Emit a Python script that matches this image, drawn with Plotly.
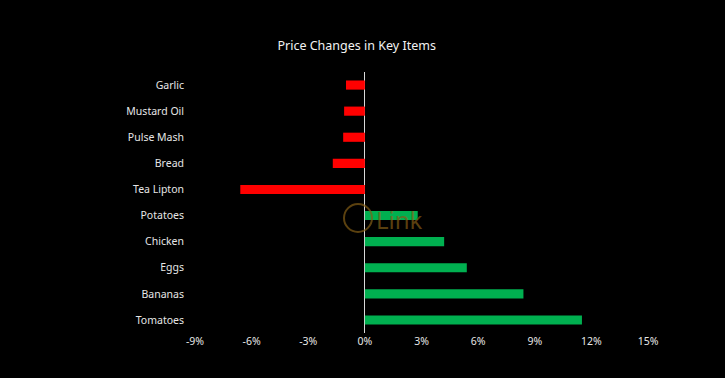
import plotly.graph_objects as go

items = ["Garlic", "Mustard Oil", "Pulse Mash", "Bread", "Tea Lipton",
         "Potatoes", "Chicken", "Eggs", "Bananas", "Tomatoes"]
changes = [-1.0, -1.1, -1.15, -1.7, -6.6, 2.8, 4.2, 5.4, 8.4, 11.5]
tick_vals = [-9, -6, -3, 0, 3, 6, 9, 12, 15]
tick_text = ["-9%", "-6%", "-3%", "0%", "3%", "6%", "9%", "12%", "15%"]

colors = ["#FF0000" if v < 0 else "#00B050" for v in changes]

fig = go.Figure(go.Bar(
    x=changes, y=items, orientation="h",
    marker=dict(color=colors, line=dict(width=0)),
    width=0.35,
))

font_family = "Noto Sans, Open Sans, sans-serif"
fig.update_layout(
    width=725, height=378,
    paper_bgcolor="black", plot_bgcolor="black",
    margin=dict(l=195, r=77, t=72, b=45),
    title=dict(text="Price Changes in Key Items", x=0.492, xanchor="center",
               y=0.88, yanchor="middle",
               font=dict(family=font_family, size=12.5, color="#f2f2f2")),
    showlegend=False,
    xaxis=dict(range=[-9, 15], tickvals=tick_vals, ticktext=tick_text,
               showgrid=False, zeroline=True, zerolinecolor="#d9d9d9",
               zerolinewidth=1, showline=False, ticks="",
               tickfont=dict(family=font_family, size=10.5, color="#e6e6e6")),
    yaxis=dict(autorange="reversed", showgrid=False, zeroline=False,
               showline=False, ticks="", ticklabelstandoff=10,
               tickfont=dict(family=font_family, size=10.5, color="#e6e6e6")),
)

# watermark
wm = "rgba(130,92,22,0.7)"
fig.add_shape(type="circle", xref="paper", yref="paper",
              x0=(344 - 195) / 453, x1=(372 - 195) / 453,
              y0=(333 - 232) / 261, y1=(333 - 204) / 261,
              line=dict(color=wm, width=2), layer="above")
fig.add_annotation(text="Link", xref="paper", yref="paper",
                   x=(374 - 195) / 453, y=(333 - 219) / 261,
                   xanchor="left", yanchor="middle", showarrow=False,
                   font=dict(family=font_family, size=24, color=wm))

fig.write_html(
    "out.html",
    config={"displayModeBar": False},
    post_script="document.body.style.margin='0';document.body.style.background='black';",
)
